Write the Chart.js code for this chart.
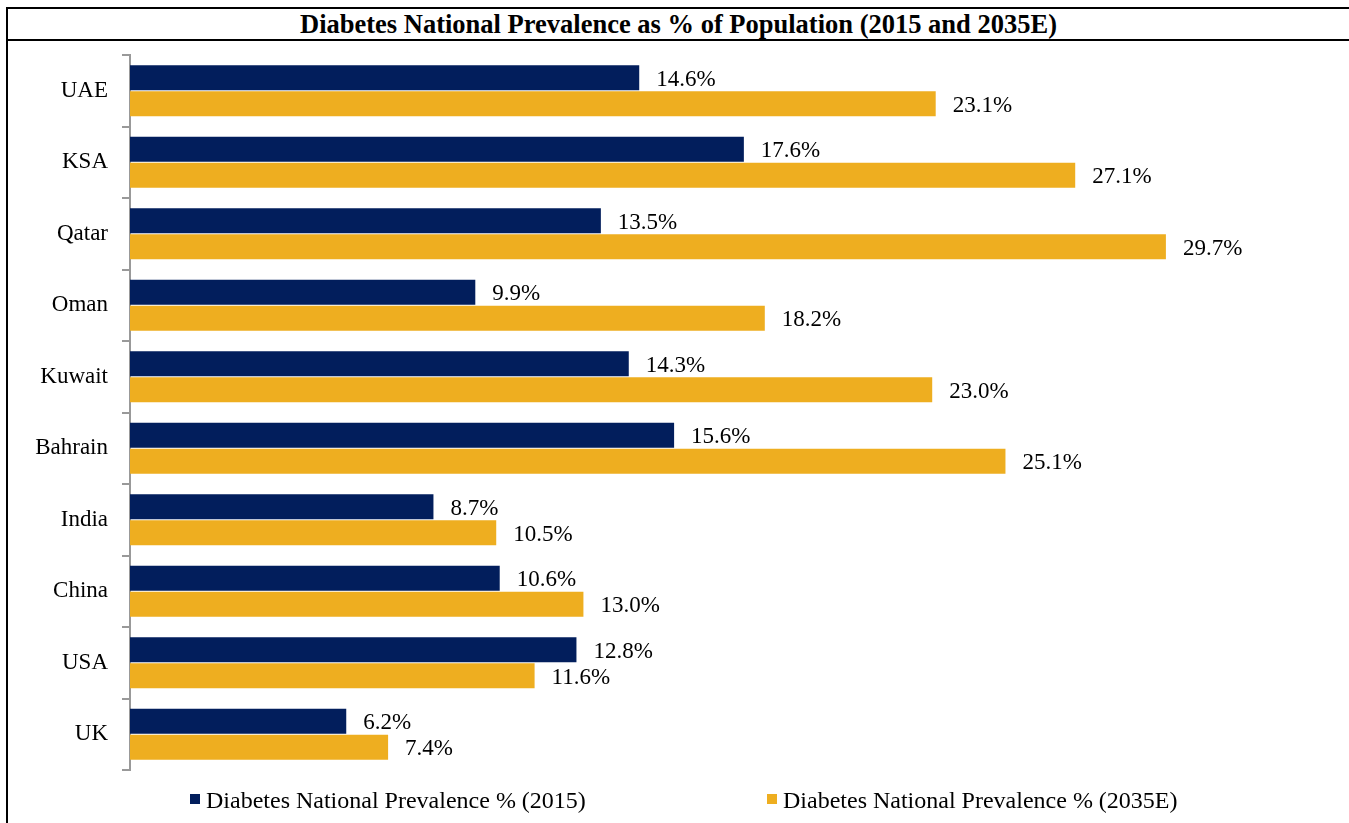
<!DOCTYPE html>
<html>
<head>
<meta charset="utf-8">
<script src="https://cdn.jsdelivr.net/npm/chart.js@4.4.0/dist/chart.umd.min.js"></script>
<style>
  html, body { margin: 0; padding: 0; background: #fff; width: 1349px; height: 823px; overflow: hidden; }
  #frame { position: absolute; left: 6px; top: 7px; width: 1400px; height: 900px;
           border-top: 2px solid #000; border-left: 2px solid #000; }
  #title { position: absolute; left: 0; top: 0; width: 1341px; height: 30px; line-height: 32px;
           border-bottom: 2px solid #000; text-align: center;
           font: bold 26.5px "Liberation Serif", "Times New Roman", serif; color: #000; }
  #wrap { position: absolute; left: 8px; top: 41px; width: 1341px; height: 782px; }
  #legend { position: absolute; left: 0; top: 786px; width: 1349px; height: 30px;
            font: 24px "Liberation Serif", "Times New Roman", serif; color: #000; }
  .li { position: absolute; top: 0; height: 30px; line-height: 28px; white-space: nowrap; }
  .sw { position: absolute; top: 8px; width: 10px; height: 10px; }
  .tx { position: absolute; top: 0; }
</style>
</head>
<body>
<div id="frame"><div id="title">Diabetes National Prevalence as % of Population (2015 and 2035E)</div></div>
<div id="wrap"><canvas id="c" width="1341" height="782"></canvas></div>
<div id="legend"></div>
<script>
const categories = ["UAE", "KSA", "Qatar", "Oman", "Kuwait", "Bahrain", "India", "China", "USA", "UK"];
const seriesNames = ["Diabetes National Prevalence % (2015)", "Diabetes National Prevalence % (2035E)"];
const values2015 = [14.6, 17.6, 13.5, 9.9, 14.3, 15.6, 8.7, 10.6, 12.8, 6.2];
const values2035 = [23.1, 27.1, 29.7, 18.2, 23.0, 25.1, 10.5, 13.0, 11.6, 7.4];
const colors = ["#021E5C", "#EEAE20"];

const FONT = '"Liberation Serif", "Times New Roman", serif';

const valueLabels = {
  id: 'valueLabels',
  afterDatasetsDraw(chart) {
    const ctx = chart.ctx;
    ctx.save();
    ctx.font = '23px ' + FONT;
    ctx.fillStyle = '#000';
    ctx.textAlign = 'left';
    ctx.textBaseline = 'middle';
    chart.data.datasets.forEach((ds, di) => {
      const meta = chart.getDatasetMeta(di);
      meta.data.forEach((bar, i) => {
        ctx.fillText(ds.data[i].toFixed(1) + '%', bar.x + 17, bar.y + 2);
      });
    });
    ctx.restore();
  }
};

const chart = new Chart(document.getElementById('c'), {
  type: 'bar',
  data: {
    labels: categories,
    datasets: [
      { label: seriesNames[0], data: values2015, backgroundColor: colors[0], borderWidth: 0,
        categoryPercentage: 0.727, barPercentage: 0.96 },
      { label: seriesNames[1], data: values2035, backgroundColor: colors[1], borderWidth: 0,
        categoryPercentage: 0.727, barPercentage: 0.96 }
    ]
  },
  options: {
    indexAxis: 'y',
    responsive: false,
    animation: false,
    layout: { padding: { left: 0, top: 14, right: 68, bottom: 53 } },
    plugins: { legend: { display: false }, tooltip: { enabled: false }, title: { display: false } },
    scales: {
      x: { display: false, min: 0, max: 33 },
      y: {
        afterFit: (s) => { s.width = 122; s.paddingTop = 0; s.paddingBottom = 0; },
        grid: { display: true, drawOnChartArea: false, drawTicks: true, tickLength: 8,
                color: '#999', lineWidth: 2, offset: true },
        border: { display: true, color: '#999', width: 2 },
        ticks: { color: '#000', font: { family: FONT, size: 23 }, padding: 14 }
      }
    }
  },
  plugins: [valueLabels]
});

const legend = document.getElementById('legend');
const positions = [190, 767];
chart.data.datasets.forEach((ds, i) => {
  const item = document.createElement('div');
  item.className = 'li';
  item.style.left = positions[i] + 'px';
  const sw = document.createElement('div');
  sw.className = 'sw';
  sw.style.left = '0px';
  sw.style.background = ds.backgroundColor;
  const tx = document.createElement('div');
  tx.className = 'tx';
  tx.style.left = '16px';
  tx.textContent = ds.label;
  item.appendChild(sw);
  item.appendChild(tx);
  legend.appendChild(item);
});
</script>
</body>
</html>
